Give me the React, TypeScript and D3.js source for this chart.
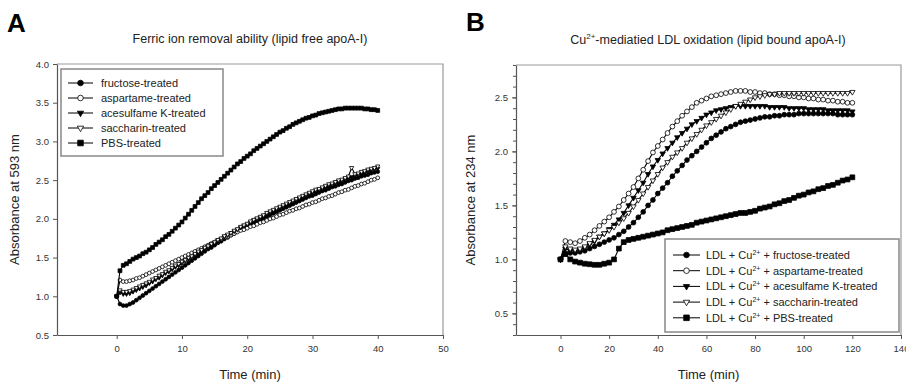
import { useEffect, useRef } from 'react';
import * as d3 from 'd3';

// Panel A: ferric ion removal, sampled every 0.5 min from 0 to 40 min
const timeA = d3.range(0, 40.25, 0.5);
const fructoseA = [
  1.00, 0.90, 0.88, 0.88, 0.90, 0.92, 0.95, 0.98, 1.01, 1.04,
  1.07, 1.10, 1.13, 1.16, 1.19, 1.22, 1.25, 1.28, 1.31, 1.34,
  1.37, 1.40, 1.43, 1.46, 1.49, 1.52, 1.55, 1.58, 1.61, 1.63,
  1.66, 1.69, 1.71, 1.74, 1.76, 1.79, 1.81, 1.84, 1.86, 1.88,
  1.91, 1.93, 1.95, 1.97, 1.99, 2.01, 2.03, 2.05, 2.07, 2.09,
  2.11, 2.13, 2.15, 2.17, 2.19, 2.21, 2.23, 2.25, 2.27, 2.29,
  2.30, 2.32, 2.34, 2.36, 2.37, 2.39, 2.41, 2.42, 2.44, 2.45,
  2.47, 2.49, 2.50, 2.52, 2.53, 2.55, 2.56, 2.57, 2.59, 2.60,
  2.61,
];
const aspartameA = [
  1.00, 1.21, 1.19, 1.19, 1.20, 1.21, 1.23, 1.24, 1.26, 1.28,
  1.30, 1.32, 1.34, 1.36, 1.38, 1.40, 1.42, 1.44, 1.46, 1.48,
  1.50, 1.52, 1.54, 1.56, 1.58, 1.60, 1.62, 1.64, 1.66, 1.68,
  1.70, 1.72, 1.74, 1.76, 1.77, 1.79, 1.81, 1.83, 1.85, 1.86,
  1.88, 1.90, 1.91, 1.93, 1.95, 1.96, 1.98, 2.00, 2.01, 2.03,
  2.05, 2.06, 2.08, 2.10, 2.11, 2.13, 2.14, 2.16, 2.18, 2.19,
  2.21, 2.22, 2.24, 2.26, 2.27, 2.29, 2.30, 2.32, 2.34, 2.35,
  2.37, 2.38, 2.40, 2.42, 2.43, 2.45, 2.46, 2.48, 2.50, 2.51,
  2.53,
];
const acesulfameA = [
  1.00, 1.05, 1.03, 1.03, 1.04, 1.06, 1.08, 1.10, 1.12, 1.14,
  1.17, 1.19, 1.22, 1.24, 1.27, 1.30, 1.32, 1.35, 1.38, 1.40,
  1.43, 1.46, 1.48, 1.51, 1.54, 1.56, 1.59, 1.62, 1.64, 1.67,
  1.69, 1.72, 1.74, 1.77, 1.79, 1.82, 1.84, 1.86, 1.89, 1.91,
  1.93, 1.95, 1.98, 2.00, 2.02, 2.04, 2.06, 2.08, 2.10, 2.12,
  2.14, 2.16, 2.18, 2.20, 2.22, 2.24, 2.26, 2.28, 2.30, 2.32,
  2.34, 2.35, 2.37, 2.39, 2.41, 2.42, 2.44, 2.46, 2.47, 2.49,
  2.51, 2.52, 2.54, 2.55, 2.57, 2.58, 2.60, 2.61, 2.63, 2.64,
  2.65,
];
const saccharinA = [
  1.00, 1.08, 1.06, 1.06, 1.07, 1.09, 1.11, 1.13, 1.15, 1.17,
  1.19, 1.22, 1.24, 1.27, 1.29, 1.32, 1.34, 1.37, 1.40, 1.42,
  1.45, 1.47, 1.50, 1.52, 1.55, 1.58, 1.60, 1.63, 1.65, 1.68,
  1.70, 1.73, 1.75, 1.78, 1.80, 1.82, 1.85, 1.87, 1.90, 1.92,
  1.94, 1.97, 1.99, 2.01, 2.03, 2.05, 2.08, 2.10, 2.12, 2.14,
  2.16, 2.18, 2.20, 2.22, 2.24, 2.26, 2.28, 2.30, 2.32, 2.34,
  2.36, 2.38, 2.39, 2.41, 2.43, 2.45, 2.46, 2.48, 2.50, 2.51,
  2.53, 2.55, 2.66, 2.58, 2.59, 2.61, 2.62, 2.64, 2.65, 2.66,
  2.68,
];
const pbsA = [
  1.00, 1.33, 1.40, 1.42, 1.45, 1.48, 1.50, 1.52, 1.55, 1.57,
  1.60, 1.63, 1.67, 1.70, 1.73, 1.77, 1.80, 1.84, 1.88, 1.92,
  1.96, 2.01, 2.06, 2.11, 2.16, 2.21, 2.26, 2.30, 2.34, 2.39,
  2.43, 2.47, 2.51, 2.55, 2.59, 2.63, 2.67, 2.71, 2.74, 2.78,
  2.81, 2.84, 2.88, 2.91, 2.94, 2.97, 3.00, 3.03, 3.06, 3.09,
  3.12, 3.14, 3.17, 3.19, 3.22, 3.24, 3.26, 3.28, 3.30, 3.31,
  3.33, 3.34, 3.36, 3.37, 3.38, 3.39, 3.40, 3.41, 3.42, 3.42,
  3.43, 3.43, 3.43, 3.43, 3.43, 3.43, 3.42, 3.42, 3.41, 3.41,
  3.40,
];
const labelsA = ['fructose-treated', 'aspartame-treated', 'acesulfame K-treated', 'saccharin-treated', 'PBS-treated'];
const xTicksA = [0, 10, 20, 30, 40, 50];
const yTicksA = [0.5, 1.0, 1.5, 2.0, 2.5, 3.0, 3.5, 4.0];

// Panel B: Cu2+-mediated LDL oxidation, sampled every 2 min from 0 to 120 min
const timeB = d3.range(0, 121, 2);
const fructoseB = [
  1.00, 1.05, 1.06, 1.06, 1.07, 1.08, 1.10, 1.12, 1.14, 1.16,
  1.18, 1.20, 1.23, 1.26, 1.30, 1.34, 1.39, 1.44, 1.50, 1.55,
  1.61, 1.66, 1.71, 1.77, 1.82, 1.87, 1.92, 1.96, 2.00, 2.04,
  2.08, 2.12, 2.15, 2.18, 2.21, 2.23, 2.25, 2.27, 2.28, 2.29,
  2.30, 2.31, 2.32, 2.32, 2.33, 2.33, 2.34, 2.34, 2.34, 2.35,
  2.35, 2.35, 2.35, 2.35, 2.35, 2.35, 2.35, 2.34, 2.34, 2.34,
  2.34,
];
const aspartameB = [
  1.00, 1.17, 1.16, 1.15, 1.17, 1.20, 1.23, 1.27, 1.31, 1.35,
  1.39, 1.44, 1.49, 1.55, 1.61, 1.67, 1.75, 1.83, 1.91, 1.99,
  2.05, 2.11, 2.17, 2.23, 2.28, 2.33, 2.37, 2.41, 2.45, 2.47,
  2.49, 2.51, 2.52, 2.53, 2.54, 2.55, 2.56, 2.56, 2.56, 2.55,
  2.55, 2.54, 2.54, 2.53, 2.53, 2.52, 2.52, 2.51, 2.51, 2.50,
  2.50, 2.49, 2.49, 2.48, 2.48, 2.47, 2.47, 2.46, 2.46, 2.45,
  2.45,
];
const acesulfameB = [
  1.00, 1.10, 1.08, 1.08, 1.09, 1.11, 1.14, 1.17, 1.21, 1.24,
  1.28, 1.32, 1.37, 1.43, 1.50, 1.57, 1.64, 1.71, 1.79, 1.86,
  1.92, 1.98, 2.03, 2.08, 2.13, 2.17, 2.21, 2.25, 2.28, 2.31,
  2.34, 2.36, 2.38, 2.39, 2.40, 2.41, 2.42, 2.42, 2.42, 2.42,
  2.42, 2.42, 2.42, 2.41, 2.41, 2.41, 2.41, 2.40, 2.40, 2.40,
  2.40, 2.39, 2.39, 2.39, 2.39, 2.38, 2.38, 2.38, 2.38, 2.38,
  2.37,
];
const saccharinB = [
  1.00, 1.12, 1.10, 1.09, 1.10, 1.12, 1.15, 1.18, 1.21, 1.24,
  1.27, 1.30, 1.34, 1.38, 1.43, 1.49, 1.55, 1.61, 1.67, 1.73,
  1.79, 1.85, 1.90, 1.95, 1.99, 2.03, 2.08, 2.12, 2.16, 2.20,
  2.24, 2.27, 2.30, 2.33, 2.36, 2.39, 2.42, 2.44, 2.46, 2.48,
  2.50, 2.51, 2.52, 2.53, 2.53, 2.54, 2.54, 2.54, 2.54, 2.54,
  2.54, 2.54, 2.54, 2.54, 2.54, 2.54, 2.54, 2.54, 2.54, 2.54,
  2.55,
];
const pbsB = [
  1.00, 1.05, 1.00, 0.98, 0.97, 0.96, 0.955, 0.95, 0.95, 0.96,
  0.97, 1.00, 1.10, 1.16, 1.18, 1.19, 1.20, 1.21, 1.22, 1.23,
  1.24, 1.25, 1.27, 1.28, 1.29, 1.30, 1.31, 1.32, 1.34, 1.35,
  1.36, 1.37, 1.38, 1.39, 1.40, 1.41, 1.42, 1.43, 1.43, 1.44,
  1.45, 1.47, 1.48, 1.49, 1.51, 1.52, 1.54, 1.55, 1.57, 1.59,
  1.60, 1.62, 1.63, 1.65, 1.66, 1.68, 1.69, 1.71, 1.73, 1.74,
  1.76,
];
const labelsB = ['fructose-treated', 'aspartame-treated', 'acesulfame K-treated', 'saccharin-treated', 'PBS-treated'];
const xTicksB = [0, 20, 40, 60, 80, 100, 120, 140];
const yTicksB = [0.5, 1.0, 1.5, 2.0, 2.5];

// marker style per series, same order as the labels
const markers = [
  { shape: 'circle', fill: '#000' },
  { shape: 'circle', fill: '#fff' },
  { shape: 'tri', fill: '#000' },
  { shape: 'tri', fill: '#fff' },
  { shape: 'square', fill: '#000' },
];

const FONT = 'Liberation Sans, Arial, sans-serif';

function drawMarker(g, shape, fill, x, y, r) {
  let sym;
  if (shape === 'circle') sym = d3.symbol(d3.symbolCircle, Math.PI * r * r);
  else if (shape === 'square') sym = d3.symbol(d3.symbolSquare, 4 * r * r);
  else sym = d3.symbol(d3.symbolTriangle, 2.2 * r * r);
  g.append('path')
    .attr('d', sym())
    .attr('transform', `translate(${x},${y})${shape === 'tri' ? ' rotate(180)' : ''}`)
    .attr('fill', fill)
    .attr('stroke', '#000')
    .attr('stroke-width', 0.8);
}

function drawPanel(svg, cfg) {
  const { left, right, top, bottom, xDomain, yDomain } = cfg;
  const x = d3.scaleLinear().domain(xDomain).range([left, right]);
  const y = d3.scaleLinear().domain(yDomain).range([bottom, top]);

  // frame (top + right in grey)
  svg.append('path')
    .attr('d', `M${left},${top}H${right}V${bottom}`)
    .attr('fill', 'none')
    .attr('stroke', '#999')
    .attr('stroke-width', 1.2);

  const xAxis = svg.append('g')
    .attr('transform', `translate(0,${bottom})`)
    .call(d3.axisBottom(x).tickValues(cfg.xTicks).tickSize(4).tickSizeOuter(0).tickPadding(6));
  const yAxis = svg.append('g')
    .attr('transform', `translate(${left},0)`)
    .call(d3.axisLeft(y).tickValues(cfg.yTicks).tickFormat(d3.format('.1f')).tickSize(4).tickSizeOuter(0).tickPadding(4));

  if (cfg.yMinor) {
    svg.append('g')
      .attr('transform', `translate(${left},0)`)
      .call(d3.axisLeft(y).tickValues(cfg.yMinor).tickFormat(() => '').tickSize(3).tickSizeOuter(0))
      .select('.domain').remove();
  }

  [xAxis, yAxis].forEach(a => {
    a.select('.domain').attr('stroke', '#555').attr('stroke-width', 1.2);
    a.selectAll('.tick text').attr('font-family', FONT).attr('font-size', 9.5).attr('fill', '#333');
  });
  svg.selectAll('.tick line').attr('stroke', '#555');

  // series
  const line = d3.line().x(d => x(d[0])).y(d => y(d[1]));
  cfg.series.forEach((vals, i) => {
    const pts = vals.map((v, j) => [cfg.time[j], v]);
    const g = svg.append('g');
    g.append('path')
      .attr('d', line(pts))
      .attr('fill', 'none')
      .attr('stroke', '#000')
      .attr('stroke-width', 1.1);
    pts.forEach(p => drawMarker(g, markers[i].shape, markers[i].fill, x(p[0]), y(p[1]), cfg.r));
  });

  // axis titles
  svg.append('text')
    .attr('x', (left + right) / 2)
    .attr('y', 379)
    .attr('text-anchor', 'middle')
    .attr('font-family', FONT)
    .attr('font-size', 13)
    .attr('fill', '#222')
    .text('Time (min)');
  svg.append('text')
    .attr('transform', `translate(${cfg.yLabelX},${(top + bottom) / 2}) rotate(-90)`)
    .attr('text-anchor', 'middle')
    .attr('font-family', FONT)
    .attr('font-size', 13)
    .attr('fill', '#222')
    .text(cfg.yLabel);

  // legend
  const lg = cfg.legend;
  svg.append('rect')
    .attr('x', lg.x).attr('y', lg.y)
    .attr('width', lg.w).attr('height', lg.h)
    .attr('fill', '#fff')
    .attr('stroke', '#888')
    .attr('stroke-width', 1.5);
  cfg.labels.forEach((lab, i) => {
    const cy = lg.y0 + i * lg.step;
    svg.append('line')
      .attr('x1', lg.lx0).attr('x2', lg.lx1)
      .attr('y1', cy).attr('y2', cy)
      .attr('stroke', '#000');
    drawMarker(svg, markers[i].shape, markers[i].fill, (lg.lx0 + lg.lx1) / 2, cy, 2.8);
    const t = svg.append('text')
      .attr('x', lg.tx)
      .attr('y', cy + 4)
      .attr('font-family', FONT)
      .attr('font-size', 11)
      .attr('fill', '#222');
    if (lg.prefix) {
      t.append('tspan').text('LDL + Cu');
      t.append('tspan').attr('dy', -4).attr('font-size', 7).text('2+');
      t.append('tspan').attr('dy', 4).text(' + ' + lab);
    } else {
      t.text(lab);
    }
  });
}

export default function App() {
  const ref = useRef(null);

  useEffect(() => {
    const svg = d3.select(ref.current);
    svg.selectAll('*').remove();

    // panel letters
    svg.append('text').attr('x', 7).attr('y', 32)
      .attr('font-family', FONT).attr('font-size', 26).attr('font-weight', 'bold').text('A');
    svg.append('text').attr('x', 466).attr('y', 31)
      .attr('font-family', FONT).attr('font-size', 26).attr('font-weight', 'bold').text('B');

    // titles
    svg.append('text').attr('x', 250).attr('y', 43).attr('text-anchor', 'middle')
      .attr('font-family', FONT).attr('font-size', 12.5).attr('fill', '#222')
      .text('Ferric ion removal ability (lipid free apoA-I)');
    const tb = svg.append('text').attr('x', 708).attr('y', 44).attr('text-anchor', 'middle')
      .attr('font-family', FONT).attr('font-size', 12.5).attr('fill', '#222');
    tb.append('tspan').text('Cu');
    tb.append('tspan').attr('dy', -5).attr('font-size', 8).text('2+');
    tb.append('tspan').attr('dy', 5).text('-mediatied LDL oxidation (lipid bound apoA-I)');

    drawPanel(svg, {
      left: 57, right: 443, top: 64, bottom: 335,
      xDomain: [-9.15, 50], yDomain: [0.5, 4.0],
      xTicks: xTicksA, yTicks: yTicksA,
      time: timeA,
      series: [fructoseA, aspartameA, acesulfameA, saccharinA, pbsA],
      r: 1.9,
      yLabel: 'Absorbance at 593 nm', yLabelX: 19,
      labels: labelsA,
      legend: { x: 61, y: 69, w: 162, h: 87, y0: 83, step: 15, lx0: 68, lx1: 93, tx: 101 },
    });

    drawPanel(svg, {
      left: 516, right: 901, top: 65, bottom: 335,
      xDomain: [-18.3, 140], yDomain: [0.3, 2.8],
      xTicks: xTicksB, yTicks: yTicksB,
      yMinor: d3.range(3, 29).map(v => v / 10),
      time: timeB,
      series: [fructoseB, aspartameB, acesulfameB, saccharinB, pbsB],
      r: 2.4,
      yLabel: 'Absorbance at 234 nm', yLabelX: 475,
      labels: labelsB,
      legend: { x: 665, y: 239, w: 234, h: 93, y0: 255, step: 15.7, lx0: 673, lx1: 700, tx: 706, prefix: true },
    });
  }, []);

  return (
    <svg
      ref={ref}
      width={906}
      height={387}
      style={{ position: 'absolute', left: 0, top: 0, background: '#fff' }}
    />
  );
}
